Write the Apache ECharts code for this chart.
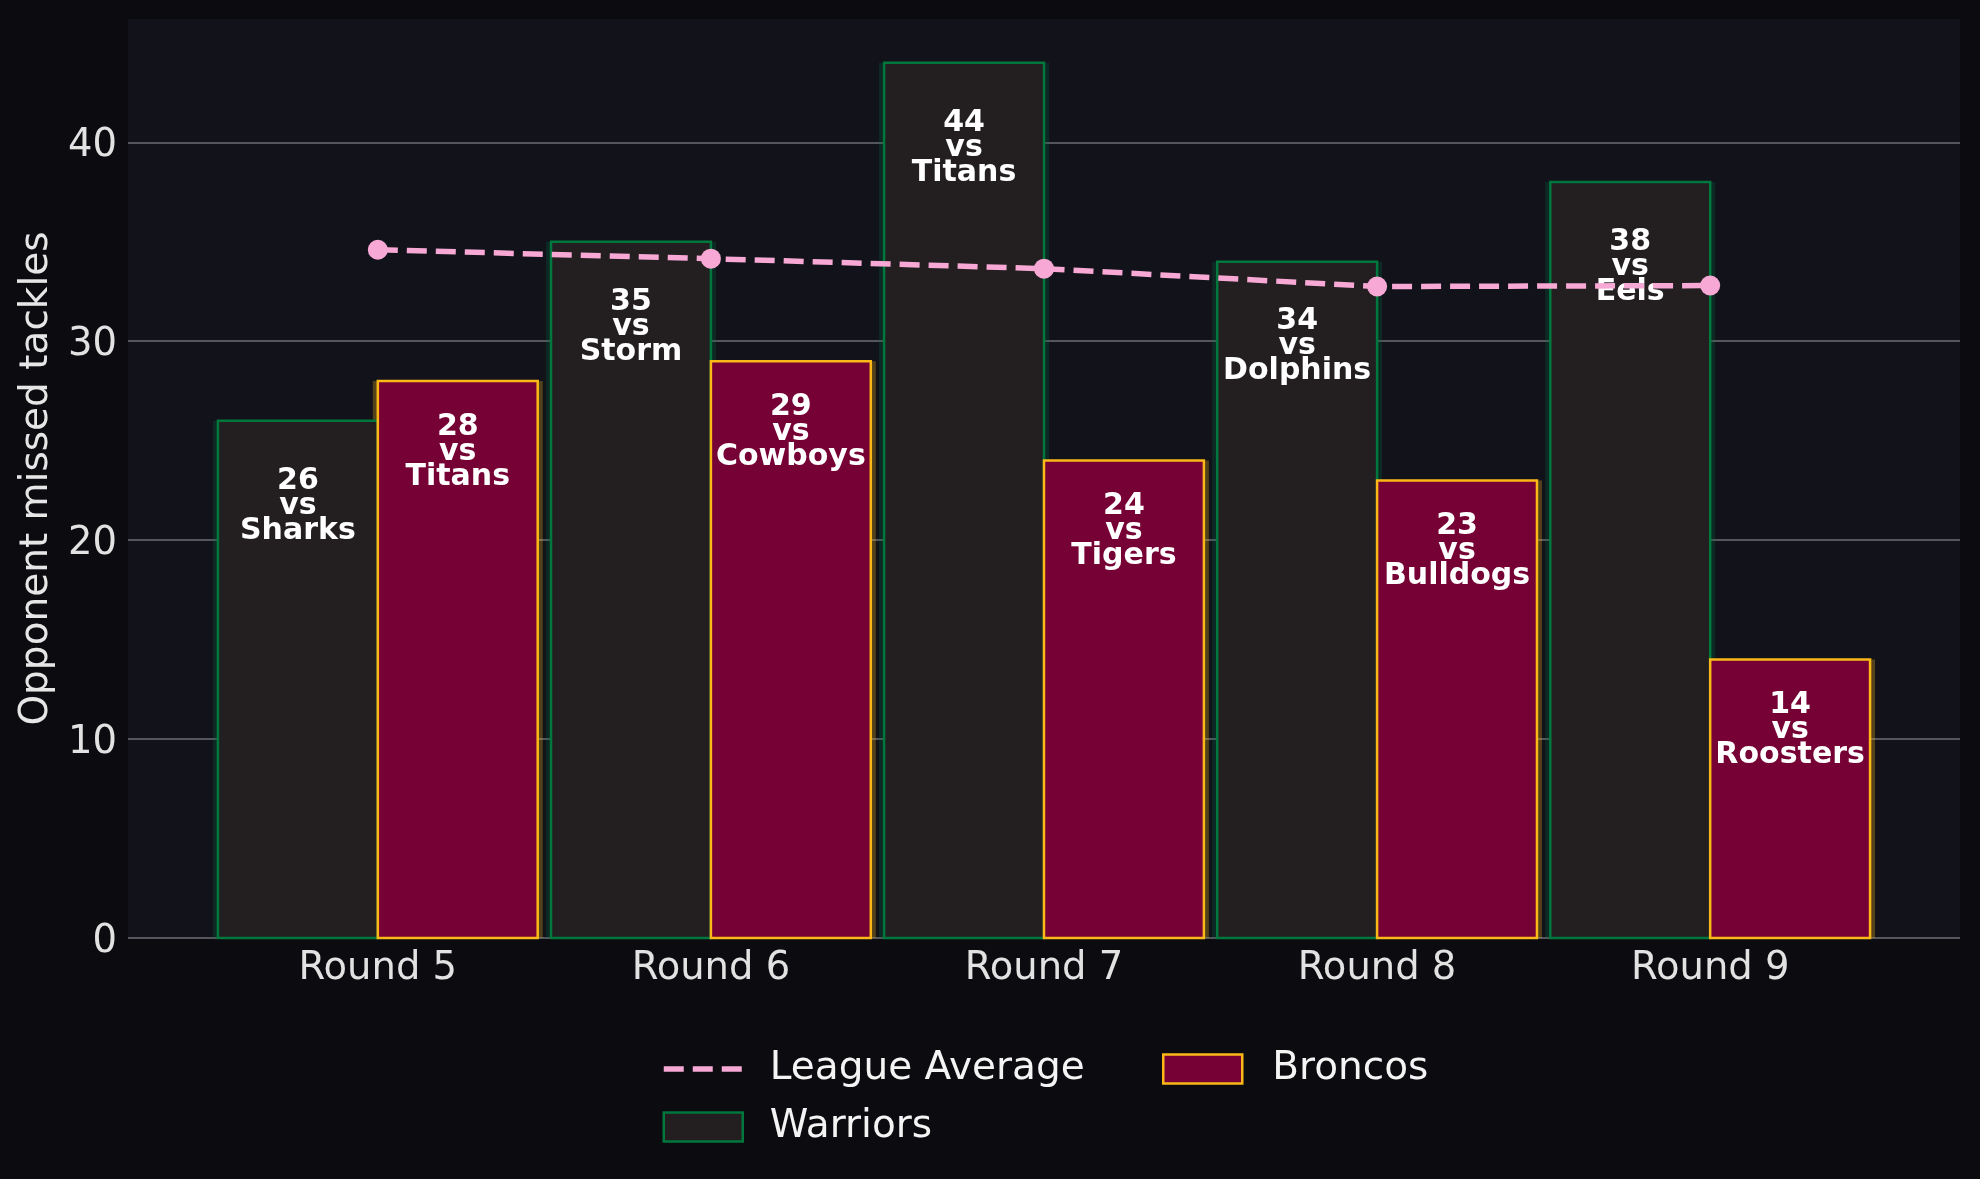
<!DOCTYPE html>
<html>
<head>
<meta charset="utf-8">
<script src="https://cdn.jsdelivr.net/npm/echarts@6/dist/echarts.min.js"></script>
<style>
  html, body { margin: 0; padding: 0; background: #0b0b10; }
  #chart { width: 1980px; height: 1179px; }
</style>
</head>
<body>
<div id="chart"></div>
<script>
const rounds = ['Round 5', 'Round 6', 'Round 7', 'Round 8', 'Round 9'];
const warriors = [26, 35, 44, 34, 38];
const broncos = [28, 29, 24, 23, 14];
const warriorsOpp = ['Sharks', 'Storm', 'Titans', 'Dolphins', 'Eels'];
const broncosOpp = ['Titans', 'Cowboys', 'Tigers', 'Bulldogs', 'Roosters'];
const leagueAvg = [34.6, 34.15, 33.65, 32.75, 32.8];
const yTicks = [0, 10, 20, 30, 40];

const BAR_W = 0.48;
const FONT = 'DejaVu Sans';
const PINK = '#f8a8d4';

const teams = {
  Warriors: { fill: '#231f20', stroke: '#00773d', glow: 'rgba(0,119,61,0.24)', side: -1, labelDy: 87, opp: warriorsOpp, values: warriors },
  Broncos: { fill: '#760135', stroke: '#fbb917', glow: 'rgba(251,185,23,0.28)', side: 1, labelDy: 73, opp: broncosOpp, values: broncos }
};

function barRect(api, side) {
  const x = api.value(0), v = api.value(1);
  const base = api.coord([x, 0]);
  const top = api.coord([x, v]);
  const w = api.size([BAR_W, 0])[0];
  const left = side < 0 ? base[0] - w : base[0];
  return { left, w, top: top[1], h: base[1] - top[1] };
}

function glowSeries(t) {
  return {
    type: 'custom',
    z: 1,
    silent: true,
    data: t.values.map((v, i) => [i, v]),
    renderItem(params, api) {
      const r = barRect(api, t.side);
      return {
        type: 'rect',
        shape: { x: r.left - 5, y: r.top, width: r.w + 10, height: r.h },
        style: { fill: t.glow }
      };
    }
  };
}

function barSeries(name, z) {
  const t = teams[name];
  return {
    name,
    type: 'custom',
    z,
    itemStyle: { color: t.fill, borderColor: t.stroke, borderWidth: 2.5 },
    data: t.values.map((v, i) => [i, v]),
    renderItem(params, api) {
      const i = params.dataIndex;
      const r = barRect(api, t.side);
      return {
        type: 'group',
        children: [
          {
            type: 'rect',
            shape: { x: r.left, y: r.top, width: r.w, height: r.h },
            style: { fill: t.fill, stroke: t.stroke, lineWidth: 2.5 }
          },
          {
            type: 'text',
            x: r.left + r.w / 2,
            y: r.top + t.labelDy - 2,
            style: {
              text: t.values[i] + '\nvs\n' + t.opp[i],
              font: 'bold 30px "' + FONT + '"',
              fill: '#ffffff',
              align: 'center',
              verticalAlign: 'middle',
              lineHeight: 25
            }
          }
        ]
      };
    }
  };
}

const chart = echarts.init(document.getElementById('chart'));

const legendText = { color: '#f4f4f4', fontSize: 39, lineHeight: 44, padding: [0, 0, 0, 22] };

chart.setOption({
  backgroundColor: '#0b0b10',
  animation: false,
  textStyle: { fontFamily: FONT },
  grid: {
    left: 128, right: 20, top: 19, bottom: 241,
    show: true, backgroundColor: '#12121b', borderWidth: 0
  },
  xAxis: {
    type: 'value',
    min: -0.75,
    max: 4.75,
    axisLine: { show: false },
    axisTick: { show: false },
    splitLine: { show: false },
    axisLabel: {
      customValues: [0, 1, 2, 3, 4],
      formatter: v => rounds[Math.round(v)],
      color: '#e2e2e2',
      fontSize: 38.5,
      margin: 11
    }
  },
  yAxis: {
    type: 'value',
    min: 0,
    max: 46.2,
    interval: 10,
    name: 'Opponent missed tackles',
    nameLocation: 'middle',
    nameRotate: 90,
    nameGap: 72,
    nameTextStyle: { color: '#e6e6e6', fontSize: 39 },
    axisLine: { show: false },
    axisTick: { show: false },
    axisLabel: {
      customValues: yTicks,
      margin: 11,
      formatter: v => '{n|' + v + '}',
      rich: {
        n: { color: '#e2e2e2', fontSize: 38.5, fontFamily: FONT, padding: [8, 0, 0, 0] }
      }
    },
    splitLine: {
      show: true,
      showMaxLine: false,
      lineStyle: { color: '#55555c', width: 2 }
    }
  },
  legend: [
    {
      orient: 'vertical',
      left: 656,
      top: 1042,
      itemWidth: 79,
      itemHeight: 29,
      itemGap: 14,
      textStyle: legendText,
      data: [
        { name: 'League Average', itemStyle: { opacity: 0 }, lineStyle: { color: PINK, width: 5.5, type: [20, 9] } },
        { name: 'Warriors', icon: 'rect', itemStyle: { color: teams.Warriors.fill, borderColor: teams.Warriors.stroke, borderWidth: 2.5 } }
      ]
    },
    {
      orient: 'vertical',
      left: 1157,
      top: 1042,
      itemWidth: 79,
      itemHeight: 29,
      textStyle: Object.assign({}, legendText, { padding: [0, 0, 0, 25] }),
      data: [
        { name: 'Broncos', icon: 'rect', itemStyle: { color: teams.Broncos.fill, borderColor: teams.Broncos.stroke, borderWidth: 2.5 } }
      ]
    }
  ],
  series: [
    glowSeries(teams.Warriors),
    glowSeries(teams.Broncos),
    barSeries('Warriors', 2),
    barSeries('Broncos', 3),
    {
      name: 'League Average',
      type: 'line',
      z: 6,
      data: leagueAvg.map((v, i) => [i, v]),
      symbol: 'circle',
      symbolSize: 20,
      itemStyle: { color: PINK },
      lineStyle: { color: PINK, width: 5.5, type: [20, 9] }
    }
  ]
});
</script>
</body>
</html>
